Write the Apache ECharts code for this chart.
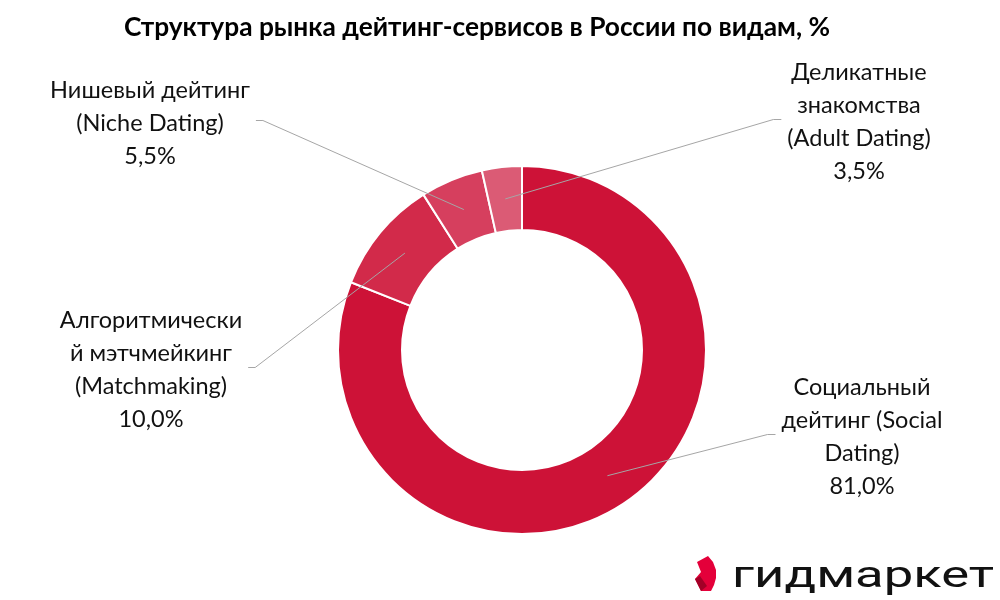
<!DOCTYPE html>
<html><head><meta charset="utf-8">
<script src="https://cdn.jsdelivr.net/npm/echarts@6/dist/echarts.min.js"></script>
<style>html,body{margin:0;padding:0;background:#fff}#c{width:1000px;height:600px}</style>
</head><body><div id="c"></div>
<script>
const title = 'Структура рынка дейтинг-сервисов в России по видам, %';
const categories = [
  'Социальный\nдейтинг (Social\nDating)',
  'Алгоритмически\nй мэтчмейкинг\n(Matchmaking)',
  'Нишевый дейтинг\n(Niche Dating)',
  'Деликатные\nзнакомства\n(Adult Dating)'
];
const values = [81.0, 10.0, 5.5, 3.5];
const colors = ['#CD1237', '#D22A4A', '#D63F5E', '#DB5B75'];
// label block centres (layout only)
const labelPos = [[862, 437], [151, 370], [150, 123], [859, 122]];
const labelSide = ['right', 'left', 'left', 'right'];

const chart = echarts.init(document.getElementById('c'), null, {renderer: 'canvas'});
const ringData = categories.map((c, i) => ({name: c, value: values[i], itemStyle: {color: colors[i]}}));
const labelData = categories.map((c, i) => ({name: c, value: values[i]}));
const fmt = v => v.toFixed(1).replace('.', ',') + '%';
const FONT = 'Lato, "Open Sans", sans-serif';

chart.setOption({
  animation: false,
  backgroundColor: '#fff',
  title: {
    text: title, left: 472, top: 10, textAlign: 'center',
    textStyle: {fontFamily: FONT, fontWeight: 'bold', fontSize: 26.3, color: '#000'}
  },
  series: [
    {
      type: 'pie', silent: true, center: [522, 350], radius: [120, 184],
      startAngle: 90, clockwise: true,
      itemStyle: {borderColor: '#fff', borderWidth: 2},
      label: {show: false}, labelLine: {show: false},
      data: ringData
    },
    {
      type: 'pie', silent: true, center: [522, 350], radius: [0, 152],
      startAngle: 90, clockwise: true, z: 5, avoidLabelOverlap: false,
      itemStyle: {color: 'rgba(0,0,0,0)', borderWidth: 0},
      label: {
        show: true, position: 'outside',
        formatter: p => p.name + '\n' + fmt(p.value),
        fontFamily: FONT, fontSize: 23.5, lineHeight: 33, color: '#111', align: 'center'
      },
      labelLine: {show: true, length: 10, length2: 10, lineStyle: {color: '#A6A6A6', width: 1}},
      labelLayout: function (p) {
        const i = p.dataIndex;
        const cx = labelPos[i][0], cy = labelPos[i][1];
        const w = p.labelRect.width;
        const start = p.labelLinePoints ? p.labelLinePoints[0] : [522, 350];
        const yEnd = cy - 2.5;
        let endX, bendX;
        if (labelSide[i] === 'left') { endX = cx + w / 2 + 6; bendX = endX + 7; }
        else { endX = cx - w / 2 - 6; bendX = endX - 8; }
        return {
          x: cx, y: cy, align: 'center', verticalAlign: 'middle',
          labelLinePoints: [start, [bendX, yEnd], [endX, yEnd]]
        };
      },
      data: labelData
    }
  ],
  graphic: [
    {type: 'polygon', shape: {points: [[697,562],[708,556],[713,562],[716,570],[716,578],[714,585],[711,591],[701,591],[695,579],[701,572]]}, style: {fill: '#E4003A'}},
    {type: 'polygon', shape: {points: [[695,579],[701,591],[707,586],[700,576]]}, style: {fill: '#A30027'}},
    {type: 'text', x: 732, y: 578, scaleX: 1.46, style: {x: 0, y: 0, text: 'гидмаркет', font: '400 36px Roboto', fill: '#111', textAlign: 'left', textVerticalAlign: 'middle', verticalAlign: 'middle'}}
  ]
});
</script>
</body></html>
